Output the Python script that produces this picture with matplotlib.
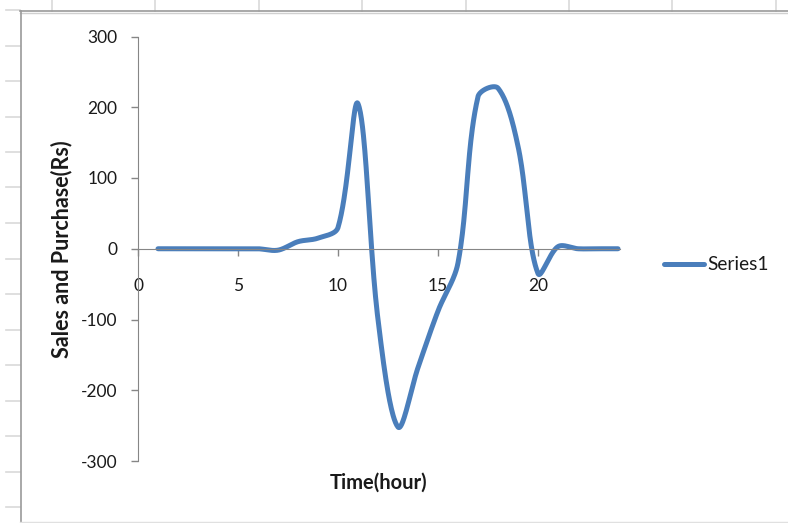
import numpy as np
import matplotlib.pyplot as plt
from matplotlib.lines import Line2D
from matplotlib.path import Path

plt.rcParams["axes.unicode_minus"] = False

# hourly sales/purchase values
hours = list(range(1, 25))
values = [0, 0, 0, 0, 0, 0, -2, 10, 15, 30, 205, -100,
          -252, -168, -88, -20, 215, 227, 145, -35, 3, 0, 0, 0]
series_name = "Series1"
x_ticks = [0, 5, 10, 15, 20]
y_ticks = [-300, -200, -100, 0, 100, 200, 300]

line_color = "#4A7EBB"
font = "Lato"


def smooth(xs, ys, sx, sy, f=1 / 3, n=40):
    # Bezier through the points with handles scaled by chord length
    # (done in screen units), close to Excel's "smoothed line"
    p = np.column_stack([np.asarray(xs, float) * sx, np.asarray(ys, float) * sy])
    m = len(p)
    hin = np.zeros_like(p)
    hout = np.zeros_like(p)
    for i in range(m):
        prev = p[max(i - 1, 0)]
        nxt = p[min(i + 1, m - 1)]
        d = nxt - prev
        lm = np.hypot(*(p[i] - prev))
        lp = np.hypot(*(nxt - p[i]))
        tot = lm + lp
        if tot == 0:
            continue
        hin[i] = d * lm / tot * f
        hout[i] = d * lp / tot * f
    t = np.linspace(0, 1, n, endpoint=False)[:, None]
    pts = []
    for i in range(m - 1):
        b0, b1, b2, b3 = p[i], p[i] + hout[i], p[i + 1] - hin[i + 1], p[i + 1]
        pts.append((1 - t)**3 * b0 + 3 * (1 - t)**2 * t * b1
                   + 3 * (1 - t) * t**2 * b2 + t**3 * b3)
    pts.append(p[-1:])
    pts = np.vstack(pts)
    return pts[:, 0] / sx, pts[:, 1] / sy


W, H = 788, 523
fig = plt.figure(figsize=(W / 100, H / 100), dpi=100)


# spreadsheet background: chart frame and cell grid stubs
def fig_line(x0, y0, x1, y1, **kw):
    fig.add_artist(Line2D([x0 / W, x1 / W], [1 - y0 / H, 1 - y1 / H],
                          transform=fig.transFigure, **kw))


for k in range(8):
    gx = 52 + 103.4 * k
    fig_line(gx, 0, gx, 11, color="#d9d9d9", lw=1.2)
for k in range(15):
    gy = 10 + 35.5 * k
    fig_line(6, gy, 20, gy, color="#d9d9d9", lw=1.2)
fig_line(20, 11, W, 11, color="#9a9a9a", lw=1.2)
fig_line(20, 13, W, 13, color="#d0d0d0", lw=1.0)
fig_line(20.5, 11, 20.5, H, color="#9a9a9a", lw=1.2)
fig_line(20, 522, W, 522, color="#e0e0e0", lw=1.0)

# plot area
left = 138 / W
bottom = 1 - 461 / H
top = 1 - 36.5 / H
xmax = 24.2
ax = fig.add_axes([left, bottom, xmax * 20 / W, top - bottom])
ax.set_xlim(0, xmax)
ax.set_ylim(-300, 300)

px_per_x = 20.0
px_per_y = (461 - 36.5) / 600
cx, cy = smooth(hours, values, px_per_x, px_per_y)
ax.plot(cx, cy, color=line_color, lw=3.6, solid_capstyle="round",
        solid_joinstyle="round", label=series_name, clip_on=False)

for s in ["top", "right"]:
    ax.spines[s].set_visible(False)
ax.spines["left"].set_color("#868686")
ax.spines["bottom"].set_color("#868686")
ax.spines["bottom"].set_position(("data", 0))
ax.spines["bottom"].set_bounds(0, 24.1)

ax.set_xticks(x_ticks)
ax.set_yticks(y_ticks)
ax.tick_params(axis="both", direction="out", length=5, width=1, color="#868686",
               labelsize=12.5, labelcolor="#1a1a1a")
ax.tick_params(axis="x", pad=16)
ax.tick_params(axis="y", pad=10)
for lab in ax.get_xticklabels() + ax.get_yticklabels():
    lab.set_fontfamily(font)

fig.text(379 / W, 1 - 483 / H, "Time(hour)", fontfamily=font, fontweight="bold",
         fontsize=14.5, ha="center", va="center", color="#1a1a1a")
fig.text(62 / W, 1 - 249 / H, "Sales and Purchase(Rs)", fontfamily=font,
         fontweight="bold", fontsize=15.5, rotation=90, ha="center", va="center",
         color="#1a1a1a")

# legend
fig_line(664, 264, 704, 264, color=line_color, lw=3.6, solid_capstyle="round")
fig.text(707 / W, 1 - 265 / H, series_name, fontfamily=font, fontsize=13.8,
         ha="left", va="center", color="#1a1a1a")

fig.savefig("out.png", dpi=100)
